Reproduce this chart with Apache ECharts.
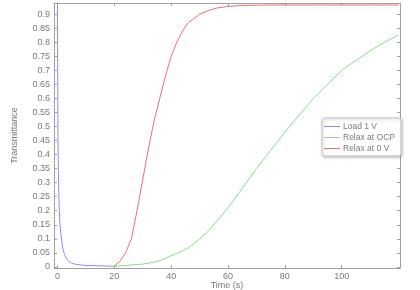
<!DOCTYPE html>
<html><head><meta charset="utf-8">
<script src="https://cdn.jsdelivr.net/npm/echarts@6/dist/echarts.min.js"></script>
<style>html,body{margin:0;padding:0;background:#fff}#c{width:420px;height:290px}</style>
</head><body><div id="c"></div>
<script>
const seriesNames = ['Load 1 V', 'Relax at OCP', 'Relax at 0 V'];
const loadTime = [0, 0.1, 0.2, 0.4, 0.6, 0.8, 1.0, 1.2, 1.6, 2.0, 2.5, 3, 4, 5, 6, 8, 10, 15, 20];
const loadValues = [0.98, 0.7, 0.45, 0.3, 0.215, 0.17, 0.14, 0.12, 0.085, 0.06, 0.045, 0.032, 0.019, 0.013, 0.01, 0.007, 0.005, 0.004, 0.002];
const relaxTime = [20, 22, 24, 26, 28, 30, 32, 34, 36, 38, 40, 42, 44, 46, 48, 50, 53, 56, 60, 65, 70, 75, 80, 85, 90, 95, 100, 105, 110, 115, 120];
const ocpValues = [0.002, 0.004, 0.005, 0.007, 0.008, 0.010, 0.013, 0.017, 0.022, 0.030, 0.040, 0.048, 0.058, 0.068, 0.083, 0.10, 0.127, 0.162, 0.21, 0.28, 0.35, 0.415, 0.48, 0.54, 0.60, 0.65, 0.70, 0.735, 0.77, 0.80, 0.826];
const zeroVValues = [0.003, 0.02, 0.05, 0.10, 0.20, 0.31, 0.42, 0.52, 0.60, 0.68, 0.75, 0.80, 0.84, 0.87, 0.885, 0.90, 0.913, 0.922, 0.928, 0.931, 0.932, 0.933, 0.933, 0.933, 0.933, 0.933, 0.933, 0.933, 0.933, 0.933, 0.933];
const xTicks = [0, 20, 40, 60, 80, 100];
const yTicks = [0, 0.05, 0.1, 0.15, 0.2, 0.25, 0.3, 0.35, 0.4, 0.45, 0.5, 0.55, 0.6, 0.65, 0.7, 0.75, 0.8, 0.85, 0.9];

const colors = ['#8092f7', '#8ad88a', '#ea7070'];
const gray = '#a0a0a0';
const txt = '#7a7a7a';
const font = 'Liberation Sans, Arial, sans-serif';

function pairs(xs, ys) { return xs.map((x, i) => [x, ys[i]]); }

const xBase = {
  type: 'value', min: -1.2, max: 120.5,
  splitLine: { show: false },
  axisLine: { show: true, onZero: false, lineStyle: { color: gray, width: 1 } },
  axisTick: { show: true, inside: true, length: 3, customValues: xTicks, lineStyle: { color: gray } },
};
const yBase = {
  type: 'value', min: -0.004, max: 0.94,
  splitLine: { show: false },
  axisLine: { show: true, onZero: false, lineStyle: { color: gray, width: 1 } },
  axisTick: { show: true, inside: true, length: 3, customValues: yTicks, lineStyle: { color: gray } },
};

const chart = echarts.init(document.getElementById('c'), null, { renderer: 'canvas' });
chart.setOption({
  animation: false,
  backgroundColor: '#fff',
  color: colors,
  grid: { left: 54, top: 3, right: 20, bottom: 22, containLabel: false, outerBoundsMode: 'none' },
  xAxis: [
    Object.assign({}, xBase, {
      position: 'bottom',
      name: 'Time (s)', nameLocation: 'middle', nameGap: 13, nameMoveOverlap: false,
      nameTextStyle: { color: txt, fontSize: 9, fontFamily: font },
      axisLabel: { show: true, customValues: xTicks, color: txt, fontSize: 9, fontFamily: font, margin: 4 }
    }),
    Object.assign({}, xBase, { position: 'top', axisLabel: { show: false } })
  ],
  yAxis: [
    Object.assign({}, yBase, {
      position: 'left',
      name: 'Transmittance', nameLocation: 'middle', nameGap: 35, nameMoveOverlap: false,
      nameTextStyle: { color: txt, fontSize: 9, fontFamily: font },
      axisLabel: { show: true, customValues: yTicks, color: txt, fontSize: 9, fontFamily: font, margin: 4,
        formatter: v => String(parseFloat(v.toFixed(2))) }
    }),
    Object.assign({}, yBase, { position: 'right', axisLabel: { show: false } })
  ],
  legend: {
    orient: 'vertical', left: 322, top: 118,
    data: seriesNames,
    icon: 'rect', itemWidth: 16, itemHeight: 1, itemGap: 2,
    padding: [4, 6, 3, 2],
    textStyle: { color: txt, fontSize: 8.5, fontFamily: font, padding: [0, 0, 0, -2] },
    backgroundColor: '#fff', borderColor: '#c8c8c8', borderWidth: 1, borderRadius: 2,
    shadowColor: 'rgba(0,0,0,0.25)', shadowBlur: 3, shadowOffsetX: 1, shadowOffsetY: 1
  },
  series: [
    { name: seriesNames[0], type: 'line', data: pairs(loadTime, loadValues), showSymbol: false, clip: true, lineStyle: { width: 1 } },
    { name: seriesNames[1], type: 'line', data: pairs(relaxTime, ocpValues), showSymbol: false, clip: true, lineStyle: { width: 1 } },
    { name: seriesNames[2], type: 'line', data: pairs(relaxTime, zeroVValues), showSymbol: false, clip: true, lineStyle: { width: 1 } }
  ]
});
</script></body></html>
